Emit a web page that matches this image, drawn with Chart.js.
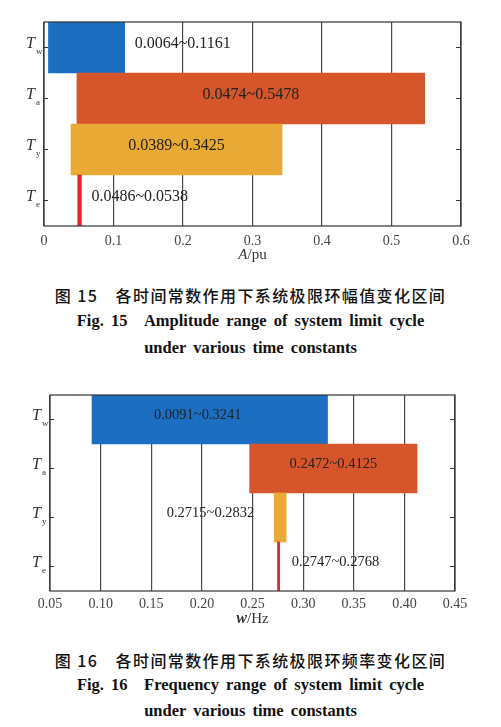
<!DOCTYPE html>
<html>
<head>
<meta charset="utf-8">
<script src="https://cdn.jsdelivr.net/npm/chart.js@4"></script>
<style>
  body { margin: 0; background: #fff; }
  #page { position: relative; width: 501px; height: 727px; overflow: hidden; }
  canvas { position: absolute; left: 0; }
  .cap { position: absolute; left: 0; width: 501px; text-align: center; white-space: nowrap; color: #111; }
  .cn { font-family: "Noto Sans CJK SC", sans-serif; font-weight: 500; font-size: 16px; letter-spacing: 1.4px; }
  .en { font-family: "Liberation Serif", "Times New Roman", serif; font-weight: 700; font-size: 16.5px; word-spacing: 3px; }
</style>
</head>
<body>
<div id="page">
  <canvas id="ampChart" width="501" height="265" style="top:0"></canvas>
  <div class="cap cn" style="top:283px">图 15&emsp;各时间常数作用下系统极限环幅值变化区间</div>
  <div class="cap en" style="top:311px">Fig. 15&emsp;Amplitude range of system limit cycle</div>
  <div class="cap en" style="top:338px">under various time constants</div>

  <canvas id="freqChart" width="501" height="250" style="top:380px"></canvas>
  <div class="cap cn" style="top:648px">图 16&emsp;各时间常数作用下系统极限环频率变化区间</div>
  <div class="cap en" style="top:675px">Fig. 16&emsp;Frequency range of system limit cycle</div>
  <div class="cap en" style="top:701px">under various time constants</div>
</div>
<script>
// time constants (T + subscript)
const constants = ["Tw", "Ta", "Ty", "Te"];
const barColors = ["#1c6ec1", "#d7552a", "#e8aa35", "#e3262b"];

// Fig. 15 amplitude range (pu)
const ampStart = [0.0064, 0.0474, 0.0389, 0.0486];
const ampEnd = [0.1161, 0.5478, 0.3425, 0.0538];
const ampText = ["0.0064~0.1161", "0.0474~0.5478", "0.0389~0.3425", "0.0486~0.0538"];

// Fig. 16 frequency range (Hz)
const freqStart = [0.0915, 0.2472, 0.2715, 0.2747];
const freqEnd = [0.3241, 0.4125, 0.2832, 0.2768];
const freqText = ["0.0091~0.3241", "0.2472~0.4125", "0.2715~0.2832", "0.2747~0.2768"];

const serif = '"Liberation Serif", "Times New Roman", serif';

// frame, y labels, range labels and axis title
const decor = {
  id: "decor",
  afterDraw(chart, args, o) {
    const { ctx, chartArea: a, scales } = chart;
    const x = scales.x, y = scales.y;
    ctx.save();

    // range labels
    ctx.fillStyle = "#222";
    ctx.font = o.labelSize + "px " + serif;
    ctx.textBaseline = "middle";
    o.text.forEach((t, i) => {
      const s = x.getPixelForValue(o.start[i]);
      const e = x.getPixelForValue(o.end[i]);
      const yy = y.getPixelForValue(i) - 4;
      if (o.place[i] == "right") {
        ctx.textAlign = "left";
        ctx.fillText(t, e + o.gapR, yy);
      } else if (o.place[i] == "left") {
        ctx.textAlign = "right";
        ctx.fillText(t, s - o.gapL, yy);
      } else {
        ctx.textAlign = "center";
        ctx.fillText(t, (s + e) / 2 + (o.shift ? o.shift[i] : 0), yy);
      }
    });

    // box
    ctx.strokeStyle = "#333";
    ctx.lineWidth = 1.2;
    ctx.strokeRect(a.left, a.top, a.right - a.left, a.bottom - a.top);

    // y ticks (inward, both sides) + T labels
    chart.data.labels.forEach((lab, i) => {
      const yy = y.getPixelForValue(i);
      ctx.beginPath();
      ctx.moveTo(a.left, yy); ctx.lineTo(a.left + 4, yy);
      ctx.moveTo(a.right, yy); ctx.lineTo(a.right - 5, yy);
      ctx.stroke();
      ctx.fillStyle = "#333";
      ctx.textAlign = "left";
      ctx.textBaseline = "middle";
      ctx.font = "italic 16px " + serif;
      ctx.fillText(lab[0], a.left - 18, yy - 4);
      ctx.font = "9px " + serif;
      ctx.fillText(lab.slice(1), a.left - 8, yy + 4);
    });

    // axis title: italic symbol + unit
    const cx = (a.left + a.right) / 2, ty = a.bottom + o.titleGap;
    ctx.font = o.symFont;
    const w1 = ctx.measureText(o.sym).width;
    ctx.font = "15px " + serif;
    const w2 = ctx.measureText(o.unit).width;
    const x0 = cx - (w1 + w2) / 2;
    ctx.fillStyle = "#333";
    ctx.textAlign = "left";
    ctx.font = o.symFont;
    ctx.fillText(o.sym, x0, ty);
    ctx.font = "15px " + serif;
    ctx.fillText(o.unit, x0 + w1, ty);
    ctx.restore();
  }
};

function rangeChart(id, start, end, text, cfg) {
  return new Chart(document.getElementById(id), {
    type: "bar",
    data: {
      labels: constants,
      datasets: [{
        data: start.map((s, i) => [s, end[i]]),
        backgroundColor: barColors,
        borderWidth: 0,
        barPercentage: 1,
        categoryPercentage: 1
      }]
    },
    options: {
      indexAxis: "y",
      responsive: false,
      animation: false,
      layout: { padding: cfg.padding },
      plugins: {
        legend: { display: false },
        tooltip: { enabled: false },
        decor: Object.assign({ start: start, end: end, text: text }, cfg.decor)
      },
      scales: {
        x: {
          min: cfg.min, max: cfg.max,
          z: 1,
          afterFit: s => { s.height = 39; },
          ticks: {
            stepSize: cfg.step,
            padding: cfg.tickPad,
            color: "#444",
            font: { family: serif, size: 14 },
            callback: cfg.fmt
          },
          grid: { color: "#4a4a4a", lineWidth: 1.2, drawTicks: false },
          border: { display: false }
        },
        y: {
          afterFit: s => { s.width = cfg.yWidth; },
          ticks: { display: false },
          grid: { display: false },
          border: { display: false }
        }
      }
    },
    plugins: [decor]
  });
}

rangeChart("ampChart", ampStart, ampEnd, ampText, {
  min: 0, max: 0.6, step: 0.1,
  fmt: v => String(Math.round(v * 10) / 10),
  padding: { top: 22, right: 40, left: 0, bottom: 0 },
  yWidth: 44, tickPad: 7,
  decor: {
    place: ["right", "center", "center", "right"], gapR: 10, gapL: 20, labelSize: 16,
    sym: "A", unit: "/pu", symFont: "italic 15px " + serif, titleGap: 29
  }
});

rangeChart("freqChart", freqStart, freqEnd, freqText, {
  min: 0.05, max: 0.45, step: 0.05,
  fmt: v => v.toFixed(2),
  padding: { top: 15, right: 46, left: 0, bottom: 0 },
  yWidth: 50, tickPad: 5,
  decor: {
    place: ["center", "center", "left", "right"], gapR: 12, gapL: 20, labelSize: 14.5,
    shift: [-12, 0, 0, 0],
    sym: "w", unit: "/Hz", symFont: "italic bold 16px " + serif, titleGap: 28
  }
});
</script>
</body>
</html>
